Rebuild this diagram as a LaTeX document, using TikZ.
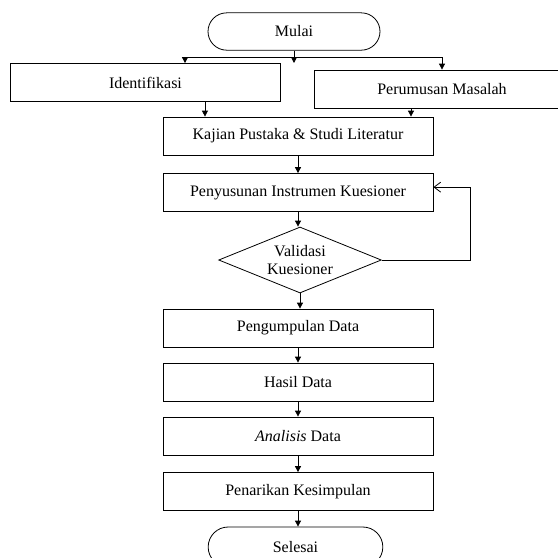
\documentclass[tikz,border=0pt]{standalone}
\usepackage{fontspec}
\setmainfont{Liberation Serif}
\usetikzlibrary{
    positioning,
    arrows.meta,
    shapes.geometric,
    shapes.misc,
}
\tikzset{
    % Node styles
    process/.style={rectangle, draw, minimum width=202.5pt, minimum height=28.5pt,
                    inner sep=0pt, font=\fontsize{12}{13}\selectfont},
    terminal/.style={rounded rectangle, draw, minimum height=28pt, inner sep=0pt,
                     font=\fontsize{12}{13}\selectfont},
    decision/.style={diamond, draw, aspect=2.47, inner sep=0pt, minimum width=122pt,
                     minimum height=49.5pt, align=center, font=\fontsize{12}{13}\selectfont},
    % Arrow styles
    arrow/.style={-{Triangle[length=4.5pt, width=4.5pt]}},
    back arrow/.style={-{Straight Barb[length=5pt, width=7.5pt]}},
}

\begin{document}
\begin{tikzpicture}[x=0.75pt, y=-0.75pt, line width=0.6pt]
    \clip (0,0) rectangle (558,558);

    % Start
    \node[terminal, minimum width=129pt] (mulai) at (294, 31.5) {Mulai};

    % First row
    \node[process, minimum width=202pt] (ident) at (145.5, 82.5) {Identifikasi};
    \node[process, minimum width=192pt] (rumus) at (442, 89) {Perumusan Masalah};

    % Main column
    \foreach \n/\y/\t in {kajian/136/Kajian Pustaka \& Studi Literatur,
                          susun/192.5/Penyusunan Instrumen Kuesioner,
                          kumpul/328/Pengumpulan Data,
                          hasil/382/Hasil Data,
                          analisis/436/\textit{Analisis} Data,
                          tarik/491.5/Penarikan Kesimpulan} {
        \node[process] (\n) at (298, \y) {\t};
    }

    % Decision
    \node[decision] (valid) at (300, 260) {Validasi\\Kuesioner};

    % End
    \node[terminal, minimum width=131pt, minimum height=30pt] (selesai) at (295.5, 547) {Selesai};

    % Split after start
    \coordinate (mid) at (294, 63);
    \coordinate (splitL) at (185, 57);
    \coordinate (splitR) at (442, 57);
    \draw[arrow] (mulai.south) -- (mid);
    \draw (splitL) -- (splitR);
    \draw[arrow] (splitL) -- (splitL |- ident.north);
    \draw[arrow] (splitR) -- (splitR |- rumus.north);

    % Into literature review
    \draw[arrow] ([xshift=44.6pt]ident.south) -- ([xshift=44.6pt]ident.south |- kajian.north);
    \draw[arrow] ([xshift=-23.25pt]rumus.south) -- ([xshift=-23.25pt]rumus.south |- kajian.north);

    % Main flow
    \foreach \a/\b in {kajian/susun, susun/valid, valid/kumpul, kumpul/hasil,
                       hasil/analisis, analisis/tarik, tarik/selesai} {
        \draw[arrow] (\a.south) -- (\a.south |- \b.north);
    }

    % Revision loop
    \coordinate (loop) at (470, 260);
    \draw[back arrow] (valid.east) -- (loop) |- ([yshift=4pt]susun.east);
\end{tikzpicture}
\end{document}
